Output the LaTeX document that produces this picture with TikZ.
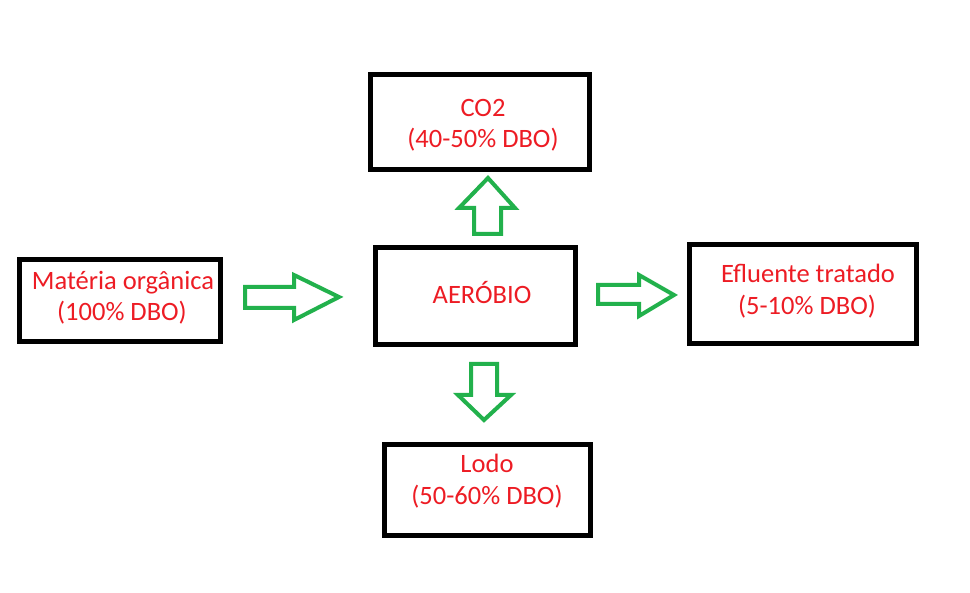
\documentclass[tikz,border=0pt]{standalone}
\usepackage{fontspec}
\setmainfont{Carlito}
\definecolor{pgreen}{HTML}{22B14C}
\definecolor{pred}{HTML}{ED1C24}
\begin{document}
\begin{tikzpicture}[x=1pt,y=-1pt,
  boxstyle/.style={draw=black,line width=5pt,rectangle,inner sep=0pt},
  txt/.style={text=pred,font=\fontsize{26.5}{31}\selectfont,anchor=base,inner sep=0pt},
  blockarrow/.style={draw=pgreen,line width=4pt,line join=miter,fill=white}]
\useasboundingbox (0,0) rectangle (970,593);
\fill[white] (0,0) rectangle (970,593);
% boxes
\node[boxstyle,minimum width=219pt,minimum height=95pt] (co2) at (480,122) {};
\node[boxstyle,minimum width=201pt,minimum height=82pt] (mat) at (120,300.5) {};
\node[boxstyle,minimum width=200pt,minimum height=97pt] (aer) at (475.5,296) {};
\node[boxstyle,minimum width=227pt,minimum height=99pt] (efl) at (803,294) {};
\node[boxstyle,minimum width=206pt,minimum height=91pt] (lodo) at (487.5,490) {};
% texts
\node[txt] (co2a) at (483,117) {CO2};
\node[txt] (co2b) at (483,148) {(40-50\% DBO)};
\node[txt] (mata) at (123,290) {Matéria orgânica};
\node[txt] (matb) at (122,321) {(100\% DBO)};
\node[txt] (aera) at (482,304) {AERÓBIO};
\node[txt] (efla) at (808,283) {Efluente tratado};
\node[txt] (eflb) at (807,315) {(5-10\% DBO)};
\node[txt] (lodoa) at (487,473) {Lodo};
\node[txt] (lodob) at (487,505) {(50-60\% DBO)};
% block arrows
\draw[blockarrow] (245,287) -- (294,287) -- (294,275) -- (339,297) -- (294,320) -- (294,308) -- (245,308) -- cycle;
\draw[blockarrow] (474,234) -- (474,208) -- (459,208) -- (488,178) -- (515,208) -- (501,208) -- (501,234) -- cycle;
\draw[blockarrow] (598,285) -- (639,285) -- (639,275) -- (674,295) -- (639,316) -- (639,304) -- (598,304) -- cycle;
\draw[blockarrow] (471,364) -- (497,364) -- (497,395) -- (511,395) -- (484,420) -- (458,395) -- (471,395) -- cycle;
\end{tikzpicture}
\end{document}
